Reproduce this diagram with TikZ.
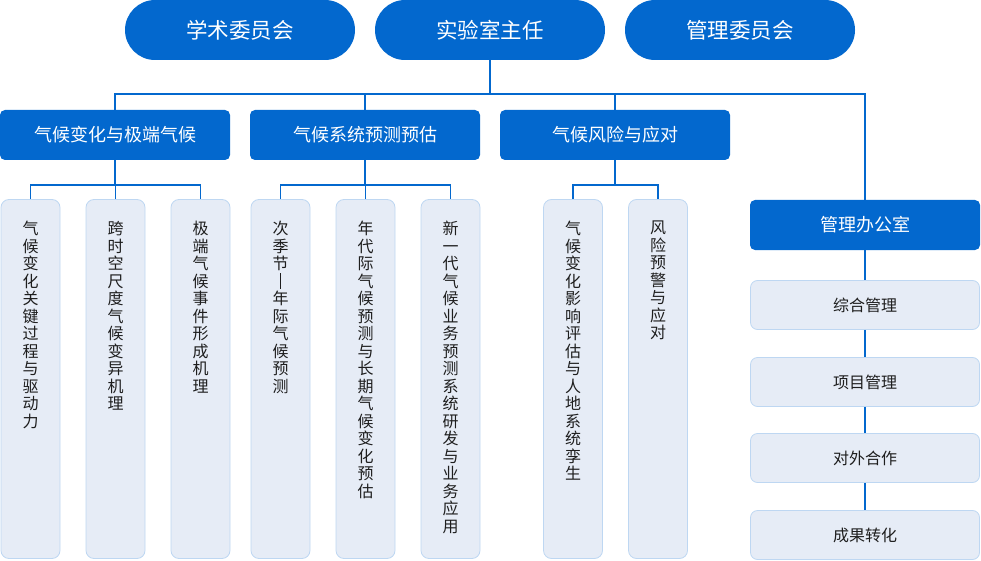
\documentclass[tikz,border=0pt]{standalone}
\usepackage{fontspec}
\setmainfont{Noto Sans CJK SC}
\definecolor{mblue}{RGB}{3,104,206}
\definecolor{lfill}{RGB}{230,236,246}
\definecolor{lborder}{RGB}{190,215,242}
\definecolor{dtext}{RGB}{30,30,30}
\newcommand\myvfont{\fontsize{16}{17.5}\selectfont\setlength{\lineskiplimit}{-30pt}\setlength{\lineskip}{0pt}}
\begin{document}
\begin{tikzpicture}[x=1pt,y=-1pt,
  pill/.style={fill=mblue,draw=none,rounded corners=30pt,minimum width=230pt,minimum height=60pt,inner sep=0pt,text=white,font=\fontsize{21.5}{24}\selectfont},
  bluebox/.style={fill=mblue,draw=none,rounded corners=5pt,minimum width=230pt,minimum height=50pt,inner sep=0pt,text=white,font=\fontsize{18}{22}\selectfont},
  lightbox/.style={fill=lfill,draw=lborder,line width=0.8pt,rounded corners=7pt,minimum width=229pt,minimum height=49pt,inner sep=0pt,text=dtext,font=\fontsize{16}{19}\selectfont},
  colbox/.style={fill=lfill,draw=lborder,line width=0.8pt,rounded corners=8pt,minimum width=59pt,minimum height=359pt,inner sep=0pt},
  vtxt/.style={anchor=north,inner sep=0pt,align=center,text=dtext,font=\myvfont},
  conn/.style={draw=mblue,line width=1.2pt}
]
\useasboundingbox (0,0) rectangle (981,561);
\coordinate (h) at (0,94);
\coordinate (h2) at (0,185);

% top level
\node[pill] (xs) at (240,30) {学术委员会};
\node[pill] (zr) at (490,30) {实验室主任};
\node[pill] (gw) at (740,30) {管理委员会};

% second level
\node[bluebox] (b1) at (115,135) {气候变化与极端气候};
\node[bluebox] (b2) at (365,135) {气候系统预测预估};
\node[bluebox] (b3) at (615,135) {气候风险与应对};
\node[bluebox] (gb) at (865,225) {管理办公室};

% columns
\node[colbox] (c11) at (30.5,379) {};
\node[colbox] (c12) at (115.5,379) {};
\node[colbox] (c13) at (200.5,379) {};
\node[colbox] (c21) at (280.5,379) {};
\node[colbox] (c22) at (365.5,379) {};
\node[colbox] (c23) at (450.5,379) {};
\node[colbox] (c31) at (573,379) {};
\node[colbox] (c32) at (658,379) {};

\node[vtxt] (t11) at ([yshift=-22pt]c11.north) {气\\候\\变\\化\\关\\键\\过\\程\\与\\驱\\动\\力};
\node[vtxt] (t12) at ([yshift=-22pt]c12.north) {跨\\时\\空\\尺\\度\\气\\候\\变\\异\\机\\理};
\node[vtxt] (t13) at ([yshift=-22pt]c13.north) {极\\端\\气\\候\\事\\件\\形\\成\\机\\理};
\node[vtxt] (t21) at ([yshift=-22pt]c21.north) {次\\季\\节\\\rule[-1.5pt]{1pt}{16pt}\\年\\际\\气\\候\\预\\测};
\node[vtxt] (t22) at ([yshift=-22pt]c22.north) {年\\代\\际\\气\\候\\预\\测\\与\\长\\期\\气\\候\\变\\化\\预\\估};
\node[vtxt] (t23) at ([yshift=-22pt]c23.north) {新\\一\\代\\气\\候\\业\\务\\预\\测\\系\\统\\研\\发\\与\\业\\务\\应\\用};
\node[vtxt] (t31) at ([yshift=-22pt]c31.north) {气\\候\\变\\化\\影\\响\\评\\估\\与\\人\\地\\系\\统\\孪\\生};
\node[vtxt] (t32) at ([yshift=-22pt]c32.north) {风\\险\\预\\警\\与\\应\\对};

% management column
\node[lightbox] (m1) at (865,305) {综合管理};
\node[lightbox] (m2) at (865,382) {项目管理};
\node[lightbox] (m3) at (865,458) {对外合作};
\node[lightbox] (m4) at (865,535) {成果转化};

% connectors
\draw[conn] (zr.south) -- (zr.south |- h);
\draw[conn] (b1.north) -- (b1.north |- h) -- (gb.north |- h) -- (gb.north);
\draw[conn] (b2.north) -- (b2.north |- h);
\draw[conn] (b3.north) -- (b3.north |- h);

\draw[conn] (b1.south) -- (b1.south |- h2);
\draw[conn] (c11.north) -- (c11.north |- h2) -- (c13.north |- h2) -- (c13.north);
\draw[conn] (c12.north) -- (c12.north |- h2);
\draw[conn] (b2.south) -- (b2.south |- h2);
\draw[conn] (c21.north) -- (c21.north |- h2) -- (c23.north |- h2) -- (c23.north);
\draw[conn] (c22.north) -- (c22.north |- h2);
\draw[conn] (b3.south) -- (b3.south |- h2);
\draw[conn] (c31.north) -- (c31.north |- h2) -- (c32.north |- h2) -- (c32.north);

\draw[conn] (gb.south) -- (m1.north);
\draw[conn] (m1.south) -- (m2.north);
\draw[conn] (m2.south) -- (m3.north);
\draw[conn] (m3.south) -- (m4.north);
\end{tikzpicture}
\end{document}
